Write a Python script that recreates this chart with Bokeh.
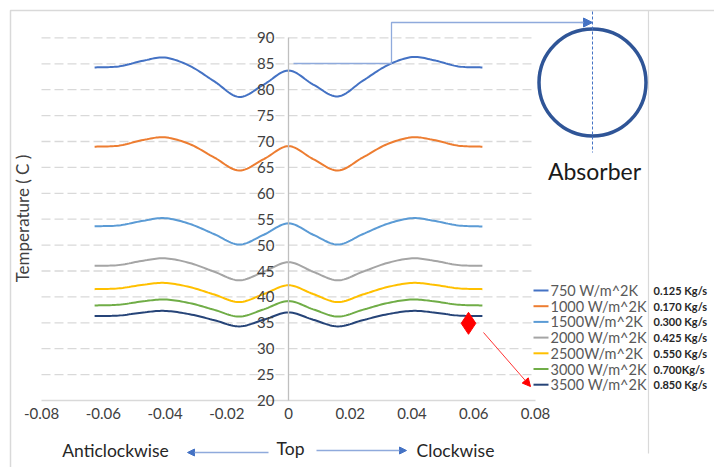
import numpy as np
from bokeh.plotting import figure
from bokeh.models import Range1d, LinearAxis, FixedTicker, Arrow, NormalHead
from bokeh.core.properties import value
from bokeh.embed import file_html
from bokeh.resources import INLINE

# ---- data: temperature around the absorber tube (arc position from the top, m) ----
positions = [-0.0628, -0.055, -0.047, -0.040, -0.032, -0.024, -0.016, -0.008, 0.0,
             0.008, 0.016, 0.024, 0.032, 0.040, 0.047, 0.055, 0.0628]

t_750 = [84.3, 84.5, 85.6, 86.2, 84.6, 81.6, 78.6, 81.0, 83.7,
         81.0, 78.7, 81.7, 84.7, 86.3, 85.7, 84.5, 84.3]
t_1000 = [69.0, 69.2, 70.3, 70.8, 69.5, 66.9, 64.4, 66.6, 69.1,
          66.6, 64.4, 66.9, 69.5, 70.8, 70.3, 69.2, 69.0]
t_1500 = [53.65, 53.8, 54.7, 55.2, 54.1, 52.1, 50.1, 52.0, 54.2,
          52.0, 50.1, 52.1, 54.1, 55.2, 54.7, 53.8, 53.6]
t_2000 = [46.0, 46.15, 47.0, 47.45, 46.55, 44.85, 43.2, 44.85, 46.7,
          44.85, 43.2, 44.85, 46.55, 47.45, 47.0, 46.15, 46.0]
t_2500 = [41.5, 41.65, 42.35, 42.7, 41.9, 40.45, 39.0, 40.55, 42.25,
          40.55, 39.0, 40.45, 41.9, 42.7, 42.35, 41.65, 41.5]
t_3000 = [38.35, 38.5, 39.15, 39.5, 38.8, 37.5, 36.2, 37.6, 39.2,
          37.6, 36.2, 37.5, 38.8, 39.5, 39.15, 38.5, 38.35]
t_3500 = [36.3, 36.4, 37.0, 37.3, 36.65, 35.5, 34.3, 35.6, 37.0,
          35.6, 34.3, 35.5, 36.65, 37.3, 37.0, 36.4, 36.3]

series_labels = ["750 W/m^2K", "1000 W/m^2K", "1500W/m^2K", "2000 W/m^2K",
                 "2500W/m^2K", "3000 W/m^2K", "3500 W/m^2K"]
flow_labels = ["0.125 Kg/s", "0.170 Kg/s", "0.300 Kg/s", "0.425 Kg/s",
               "0.550 Kg/s", "0.700Kg/s", "0.850 Kg/s"]
series_colors = ["#4472c4", "#ed7d31", "#5b9bd5", "#a5a5a5", "#ffc000", "#70ad47", "#264478"]

x_ticks = [-0.08, -0.06, -0.04, -0.02, 0.0, 0.02, 0.04, 0.06, 0.08]
x_tick_labels = ["-0.08", "-0.06", "-0.04", "-0.02", "0", "0.02", "0.04", "0.06", "0.08"]
y_ticks = [20, 25, 30, 35, 40, 45, 50, 55, 60, 65, 70, 75, 80, 85, 90]

marker_pos = [0.0583]
marker_temp = [34.9]

W, H = 714, 467
FONT = "Lato"

# the frame covers the whole canvas; helpers place decorations by pixel position
def dx(px):
    return (px - 288) / 3087.5

def dy(py):
    return 20 + (400 - py) / 5.18

def smooth(xs, ys, steps=12):
    """Catmull-Rom curve through the points (smoothed line rendering)."""
    pts = np.column_stack([xs, ys]).astype(float)
    P = np.vstack([pts[0], pts, pts[-1]])
    t = np.linspace(0, 1, steps, endpoint=False)[:, None]
    out = []
    for i in range(1, len(P) - 2):
        p0, p1, p2, p3 = P[i - 1], P[i], P[i + 1], P[i + 2]
        seg = 0.5 * ((2 * p1) + (-p0 + p2) * t + (2 * p0 - 5 * p1 + 4 * p2 - p3) * t ** 2
                     + (-p0 + 3 * p1 - 3 * p2 + p3) * t ** 3)
        out.append(seg)
    out.append(pts[-1:])
    c = np.vstack(out)
    return c[:, 0], c[:, 1]

p = figure(width=W, height=H, output_backend="svg", toolbar_location=None,
           x_range=Range1d(dx(0), dx(W)), y_range=Range1d(dy(H), dy(0)),
           x_axis_location=None, y_axis_location=None, min_border=0)
p.outline_line_color = None
p.grid.visible = False
p.background_fill_color = "white"

# chart area border
p.line([dx(10), dx(10), dx(W)], [dy(H), dy(10), dy(10)], line_color="#d9d9d9", line_width=1.5)
p.segment(x0=[dx(648)], y0=[dy(10)], x1=[dx(648)], y1=[dy(453)], line_color="#d9d9d9", line_width=1.2)

# horizontal gridlines
gy = y_ticks[1:]
p.segment(x0=[-0.08] * len(gy), x1=[0.08] * len(gy), y0=gy, y1=gy,
          line_color="#d9d9d9", line_width=1.3, line_dash="9 4")

# axes crossing at x = 0 and y = 20
xaxis = LinearAxis(fixed_location=20, bounds=(-0.08, 0.08),
                   ticker=FixedTicker(ticks=x_ticks),
                   major_label_overrides={t: s for t, s in zip(x_ticks, x_tick_labels)})
yaxis = LinearAxis(fixed_location=0, bounds=(20, 90), ticker=FixedTicker(ticks=y_ticks))
for ax, col in ((xaxis, "#d9d9d9"), (yaxis, "#bfbfbf")):
    ax.axis_line_color = col
    ax.axis_line_width = 1.3
    ax.major_tick_in = 0
    ax.major_tick_out = 0
    ax.minor_tick_in = 0
    ax.minor_tick_out = 0
    ax.major_label_text_font = FONT
    ax.major_label_text_font_size = "15px"
    ax.major_label_text_color = "#404040"
xaxis.major_label_standoff = 7
yaxis.major_label_standoff = 14
p.add_layout(xaxis, "below")
p.add_layout(yaxis, "left")

p.text(x=[dx(22)], y=[dy(218)], text=["Temperature ( C )"], angle=np.pi / 2,
       text_align="center", text_baseline="middle", text_font=value(FONT),
       text_font_size=value("17px"), text_color="#404040")

# temperature profiles
all_series = [t_750, t_1000, t_1500, t_2000, t_2500, t_3000, t_3500]
for temps, col in zip(all_series, series_colors):
    sx, sy = smooth(positions, temps)
    p.line(sx, sy, line_color=col, line_width=2)

# legend rows: line sample, series name, mass flow
row_y = [dy(290 + 15.7 * i) for i in range(len(series_labels))]
n = len(series_labels)
p.segment(x0=[dx(533)] * n, x1=[dx(548)] * n, y0=row_y, y1=row_y,
          line_color=series_colors, line_width=2)
p.text(x=[dx(550)] * n, y=row_y, text=series_labels, text_align="left",
       text_baseline="middle", text_font=value(FONT), text_font_size=value("14.5px"),
       text_color="#595959")
p.text(x=[dx(653)] * n, y=row_y, text=flow_labels,
       text_align="left", text_baseline="middle", text_font=value(FONT),
       text_font_size=value("11px"), text_font_style="bold", text_color="#262626")

# red marker with pointer to the last legend entry
p.scatter(marker_pos, marker_temp, marker="diamond", size=22, fill_color="red", line_color="red")
p.add_layout(Arrow(x_start=dx(483), y_start=dy(332), x_end=dx(530), y_end=dy(386),
                   line_color="#ff3333", line_width=1,
                   end=NormalHead(size=8, fill_color="red", line_color="red")))

# absorber tube sketch
p.scatter([dx(592)], [dy(82)], marker="circle", size=107, fill_color=None,
          line_color="#2f5597", line_width=3.5)
p.segment(x0=[dx(592)], y0=[dy(11)], x1=[dx(592)], y1=[dy(152)],
          line_color="#4472c4", line_width=1, line_dash="3 2")
p.text(x=[dx(594)], y=[dy(170)], text=["Absorber"], text_align="center",
       text_baseline="middle", text_font=value(FONT), text_font_size=value("23px"),
       text_color="#1a1a1a")

# connector from the top of the tube to the sketch
p.line([dx(293), dx(391), dx(391), dx(585)], [dy(63), dy(63), dy(22), dy(22)],
       line_color="#8faadc", line_width=1.3)
p.add_layout(Arrow(x_start=dx(580), y_start=dy(22), x_end=dx(592), y_end=dy(22),
                   line_color="#8faadc", line_width=1.3,
                   end=NormalHead(size=9, fill_color="#4472c4", line_color="#4472c4")))

# direction captions
p.text(x=[dx(115), dx(290), dx(455)], y=[dy(450), dy(448), dy(450)],
       text=["Anticlockwise", "Top", "Clockwise"], text_align="center",
       text_baseline="middle", text_font=value(FONT), text_font_size=value("17.5px"),
       text_color="#262626")
p.add_layout(Arrow(x_start=dx(268), y_start=dy(452), x_end=dx(187), y_end=dy(452),
                   line_color="#8faadc", line_width=1.5,
                   end=NormalHead(size=7, fill_color="#4472c4", line_color="#4472c4")))
p.add_layout(Arrow(x_start=dx(316), y_start=dy(450), x_end=dx(406), y_end=dy(450),
                   line_color="#8faadc", line_width=1.5,
                   end=NormalHead(size=7, fill_color="#4472c4", line_color="#4472c4")))

open("out.html", "w").write(file_html(p, INLINE))
